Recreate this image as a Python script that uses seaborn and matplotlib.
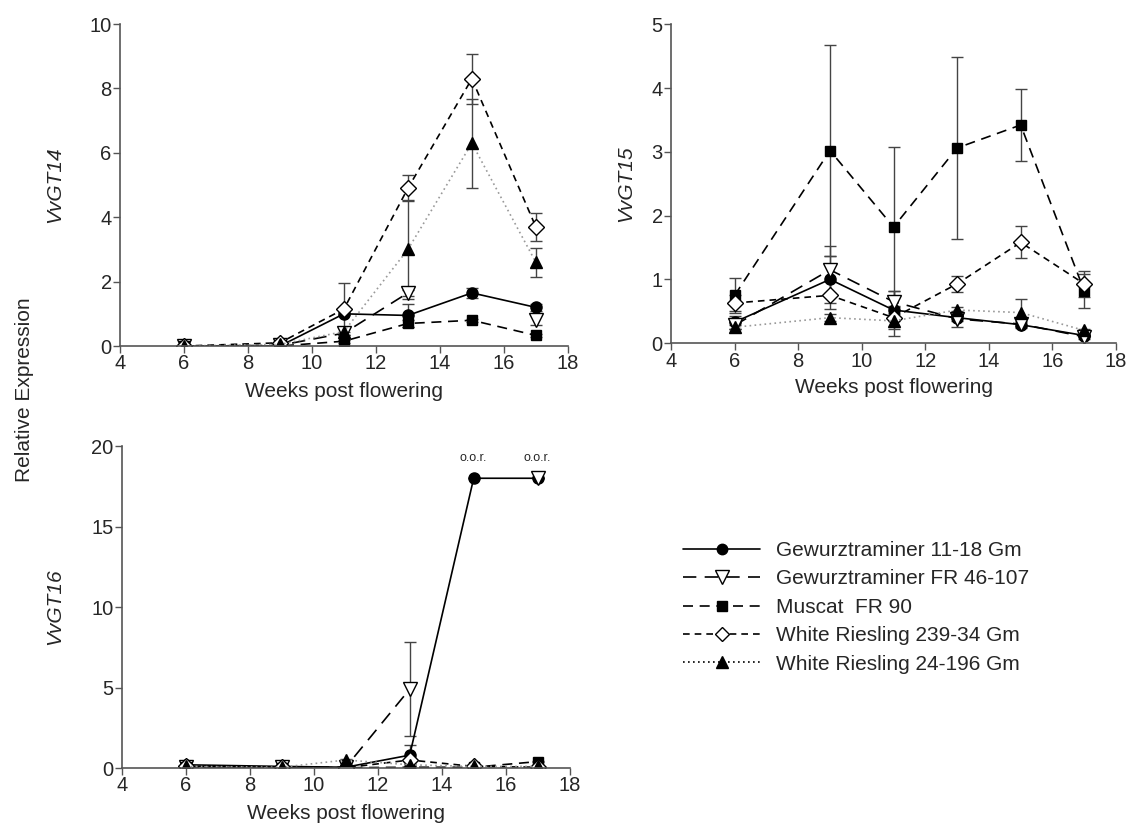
import numpy as np
import pandas as pd
import matplotlib
matplotlib.use('Agg')
import matplotlib.pyplot as plt
from matplotlib.lines import Line2D
import seaborn as sns

weeks = [6, 9, 11, 13, 15, 17]
series_names = ['Gewurztraminer 11-18 Gm', 'Gewurztraminer FR 46-107', 'Muscat  FR 90',
                'White Riesling 239-34 Gm', 'White Riesling 24-196 Gm']

# VvGT14 means and errors
gt14_gew1118 = [0.0, 0.0, 1.0, 0.95, 1.65, 1.2]
gt14_gew1118_err = [0.02, 0.02, 0.05, 0.35, 0.15, 0.12]
gt14_gewfr = [0.0, 0.02, 0.4, 1.65, np.nan, 0.8]
gt14_gewfr_err = [0.0, 0.0, 0.05, 0.1, 0.0, 0.15]
gt14_muscat = [0.0, 0.0, 0.15, 0.7, 0.8, 0.33]
gt14_muscat_err = [0.0, 0.0, 0.05, 0.1, 0.05, 0.05]
gt14_wr239 = [0.0, 0.1, 1.15, 4.9, 8.3, 3.7]
gt14_wr239_err = [0.0, 0.02, 0.8, 0.4, 0.78, 0.43]
gt14_wr24 = [0.0, 0.05, 0.45, 3.0, 6.3, 2.6]
gt14_wr24_err = [0.0, 0.02, 0.1, 1.55, 1.38, 0.45]

# VvGT15
gt15_gew1118 = [0.33, 1.0, 0.52, 0.4, 0.29, 0.12]
gt15_gew1118_err = [0.1, 0.37, 0.3, 0.05, 0.05, 0.03]
gt15_gewfr = [0.28, 1.15, 0.65, 0.38, 0.3, 0.1]
gt15_gewfr_err = [0.05, 0.37, 0.17, 0.12, 0.03, 0.03]
gt15_muscat = [0.75, 3.02, 1.82, 3.06, 3.42, 0.82]
gt15_muscat_err = [0.27, 1.65, 1.25, 1.43, 0.56, 0.27]
gt15_wr239 = [0.63, 0.75, 0.4, 0.93, 1.58, 0.93]
gt15_wr239_err = [0.12, 0.22, 0.05, 0.13, 0.25, 0.2]
gt15_wr24 = [0.25, 0.4, 0.35, 0.52, 0.48, 0.2]
gt15_wr24_err = [0.03, 0.05, 0.23, 0.05, 0.22, 0.03]

# VvGT16 (18 = out of range)
gt16_gew1118 = [0.2, 0.1, 0.05, 0.8, 18.0, 18.0]
gt16_gew1118_err = [0.05, 0.03, 0.02, 0.65, 0.0, 0.0]
gt16_gewfr = [0.05, 0.05, 0.05, 4.9, np.nan, 18.0]
gt16_gewfr_err = [0.0, 0.0, 0.0, 2.9, 0.0, 0.0]
gt16_muscat = [0.05, 0.02, 0.02, 0.05, 0.05, 0.4]
gt16_muscat_err = [0.0, 0.0, 0.0, 0.05, 0.0, 0.05]
gt16_wr239 = [0.1, 0.05, 0.02, 0.5, 0.1, 0.05]
gt16_wr239_err = [0.0, 0.0, 0.0, 0.05, 0.0, 0.0]
gt16_wr24 = [0.1, 0.05, 0.5, 0.2, 0.1, 0.1]
gt16_wr24_err = [0.0, 0.0, 0.05, 0.05, 0.0, 0.0]
oor_points = [(15, 18.0), (17, 18.0)]

styles = [
    dict(marker='o', mfc='black', ls='-', color='black', ms=8),
    dict(marker='v', mfc='white', ls=(0, (8, 5)), color='black', ms=10.5),
    dict(marker='s', mfc='black', ls=(0, (6, 4)), color='black', ms=7.5),
    dict(marker='D', mfc='white', ls=(0, (4, 3)), color='black', ms=8),
    dict(marker='^', mfc='black', ls=(0, (1, 2)), color='#999999', ms=8.5),
]

panels = [
    ('VvGT14', [gt14_gew1118, gt14_gewfr, gt14_muscat, gt14_wr239, gt14_wr24],
     [gt14_gew1118_err, gt14_gewfr_err, gt14_muscat_err, gt14_wr239_err, gt14_wr24_err],
     [0, 10], 2),
    ('VvGT15', [gt15_gew1118, gt15_gewfr, gt15_muscat, gt15_wr239, gt15_wr24],
     [gt15_gew1118_err, gt15_gewfr_err, gt15_muscat_err, gt15_wr239_err, gt15_wr24_err],
     [0, 5], 1),
    ('VvGT16', [gt16_gew1118, gt16_gewfr, gt16_muscat, gt16_wr239, gt16_wr24],
     [gt16_gew1118_err, gt16_gewfr_err, gt16_muscat_err, gt16_wr239_err, gt16_wr24_err],
     [0, 20], 5),
]

sns.set_theme(style='ticks')
plt.rcParams['font.family'] = ['Liberation Sans', 'DejaVu Sans']

fig = plt.figure(figsize=(11.28, 8.35), dpi=100)
rects = [[0.1064, 0.5856, 0.397, 0.3856],
         [0.5949, 0.589, 0.3945, 0.382],
         [0.108, 0.0802, 0.397, 0.3856]]
ylab_x = [-0.145, -0.103, -0.15]

for (name, vals, errs, ylim, ystep), rect, lx in zip(panels, rects, ylab_x):
    ax = fig.add_axes(rect)
    for i, (v, e) in enumerate(zip(vals, errs)):
        st = styles[i]
        v = np.array(v, dtype=float)
        seg = np.cumsum(np.isnan(v))
        df = pd.DataFrame({'week': weeks, 'value': v, 'seg': seg}).dropna()
        ax.errorbar(weeks, v, yerr=e, fmt='none', ecolor='#444444',
                    elinewidth=1, capsize=4, capthick=1, zorder=1.5)
        sns.lineplot(data=df, x='week', y='value', units='seg', estimator=None,
                     ax=ax, color=st['color'], linestyle=st['ls'], linewidth=1.2,
                     marker=st['marker'], markersize=st['ms'],
                     markerfacecolor=st['mfc'], markeredgecolor='black',
                     markeredgewidth=1, zorder=2 + i * 0.1)
    if name == 'VvGT16':
        for px, py in oor_points:
            ax.text(px, py + 0.9, 'o.o.r.', ha='center', va='bottom', fontsize=9)
    ax.set_xlim(4, 18)
    ax.set_xticks(range(4, 19, 2))
    ax.set_ylim(*ylim)
    ax.set_yticks(np.arange(ylim[0], ylim[1] + ystep / 2, ystep))
    for s in ['top', 'right']:
        ax.spines[s].set_visible(False)
    for s in ['left', 'bottom']:
        ax.spines[s].set_color('#555555')
        ax.spines[s].set_linewidth(1.2)
    ax.tick_params(direction='out', length=5, width=1, color='#555555',
                   labelsize=14.5, pad=1)
    ax.set_xlabel('Weeks post flowering', fontsize=15)
    ax.xaxis.set_label_coords(0.5, -0.14)
    ax.xaxis.label.set_va('center')
    ax.set_ylabel(name, fontsize=15, style='italic')
    ax.yaxis.set_label_coords(lx, 0.5)
    ax.yaxis.label.set_va('center')

fig.text(25 / 1128, 1 - 390 / 835, 'Relative Expression', rotation=90,
         ha='center', va='center', fontsize=15)

handles = [Line2D([], [], color='black', linestyle=st['ls'], linewidth=1.2,
                  marker=st['marker'], markersize=st['ms'] - 0.5,
                  markerfacecolor=st['mfc'], markeredgecolor='black')
           for st in styles]
fig.legend(handles, series_names, loc='upper left',
           bbox_to_anchor=(0.6055, 0.352), frameon=False, fontsize=15,
           handlelength=3.7, handletextpad=0.75, labelspacing=0.45,
           borderpad=0, borderaxespad=0)

fig.savefig('out.png', dpi=100)
